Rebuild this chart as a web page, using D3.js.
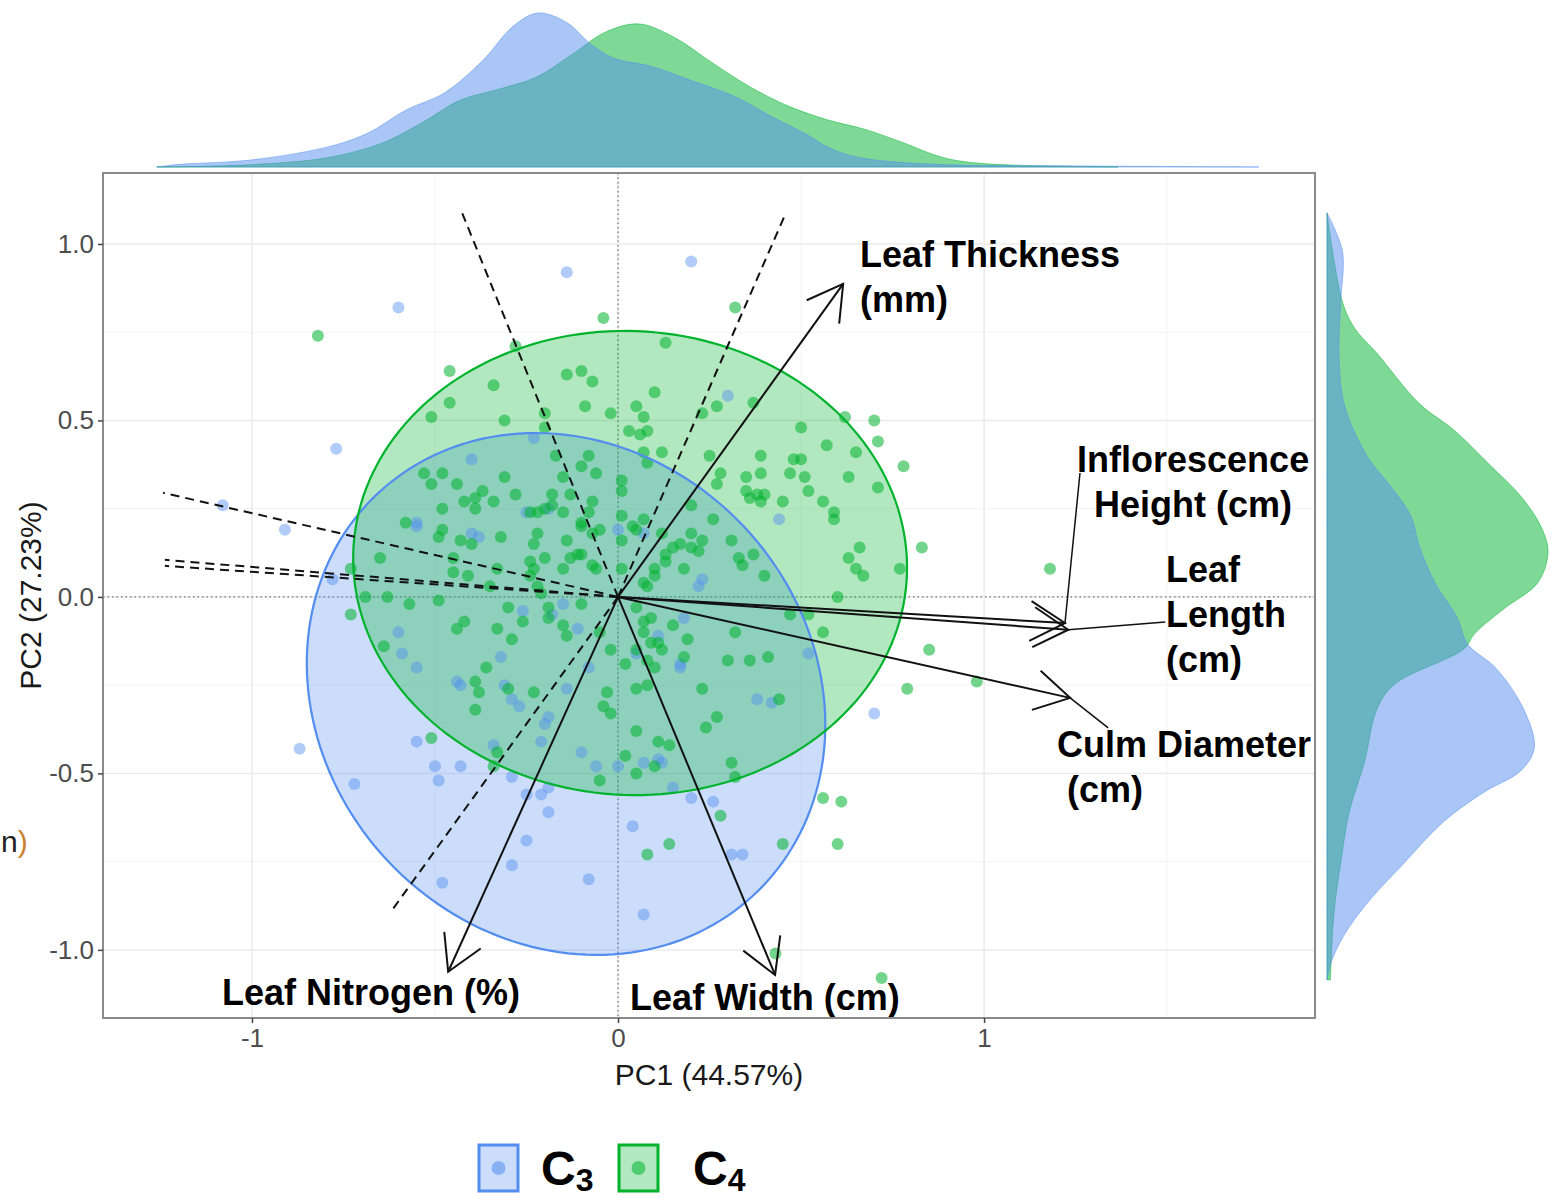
<!DOCTYPE html>
<html>
<head>
<meta charset="utf-8">
<script src="https://cdn.jsdelivr.net/npm/d3@7"></script>
<style>
  body { margin: 0; background: #fff; }
  text { font-family: "Liberation Sans", Arial, sans-serif; }
</style>
</head>
<body>
<svg id="chart" width="1552" height="1199"></svg>
<script>
// ---- data ----
var groups = ['C3', 'C4'];
var groupColors = { C3: '#538DEF', C4: '#00B32D' };

var xTicks = [-1, 0, 1];
var yTicks = [-1.0, -0.5, 0.0, 0.5, 1.0];
var xMinor = [-0.5, 0.5, 1.5];
var yMinor = [-0.75, -0.25, 0.25, 0.75];

// PCA scores [PC1, PC2]
var c3Points = [[-0.14,0.92],[0.20,0.95],[-0.60,0.82],[-0.77,0.42],[-1.08,0.26],[-0.91,0.19],[-0.78,0.05],
  [-0.87,-0.43],[-0.72,-0.53],[-0.55,-0.41],[-0.43,-0.48],[-0.49,-0.52],[-0.50,-0.48],[-0.29,-0.51],
  [-0.25,-0.56],[-0.21,-0.56],[-0.19,-0.54],[-0.19,-0.61],[-0.25,-0.69],[-0.29,-0.76],[-0.48,-0.81],
  [-0.08,-0.80],[0.04,-0.65],[0.07,-0.90],[0.26,-0.58],[0.31,-0.73],[0.34,-0.73],[-0.10,-0.44],
  [-0.06,-0.48],[0.00,-0.48],[0.07,-0.47],[0.11,-0.46],[0.12,-0.47],[-0.21,-0.41],[0.70,-0.33],
  [0.52,-0.16],[0.38,-0.29],[0.42,-0.30],[-0.40,0.39],[-0.55,0.21],[-0.55,0.20],[-0.40,0.18],
  [-0.38,0.17],[-0.19,0.25],[0.00,0.19],[0.07,0.18],[0.44,0.22],[0.23,0.05],[0.22,0.03],[-0.15,-0.02],
  [-0.18,-0.05],[-0.26,-0.04],[-0.11,-0.09],[-0.60,-0.10],[-0.59,-0.16],[-0.55,-0.20],[-0.32,-0.17],
  [-0.08,-0.20],[-0.44,-0.24],[-0.43,-0.25],[-0.31,-0.25],[-0.29,-0.29],[-0.27,-0.31],[-0.14,-0.26],
  [0.05,-0.16],[0.11,-0.11],[0.17,-0.19],[0.17,-0.20],[-0.19,-0.34],[-0.20,-0.36],[-0.34,-0.42],
  [0.18,-0.06],[-0.25,0.24],[0.30,0.57],[-0.23,0.45],[0.20,-0.57],[0.15,-0.54]];

var c4Points = [[-0.04,0.79],[0.32,0.82],[0.13,0.72],[-0.46,0.64],[-0.34,0.60],[-0.14,0.63],[-0.10,0.64],
  [-0.07,0.61],[-0.28,0.71],[-0.46,0.55],[-0.51,0.51],[-0.31,0.50],[-0.20,0.52],[-0.20,0.48],[-0.09,0.54],
  [-0.02,0.52],[0.05,0.54],[0.07,0.51],[0.03,0.47],[0.06,0.46],[0.08,0.47],[0.10,0.58],[0.12,0.41],
  [0.27,0.54],[0.23,0.52],[0.37,0.55],[0.50,0.48],[0.57,0.43],[0.62,0.51],[0.70,0.50],[0.71,0.44],
  [0.65,0.41],[0.39,0.40],[0.48,0.39],[0.50,0.39],[0.25,0.40],[0.07,0.41],[-0.08,0.40],[-0.17,0.40],
  [-0.82,0.74],[-0.65,0.11],[-0.73,0.08],[-0.73,-0.05],[-0.69,0.00],[-0.63,0.00],[-0.64,-0.14],
  [0.78,0.37],[0.71,0.31],[0.66,0.14],[0.65,0.08],[0.67,0.06],[0.77,0.08],[0.83,0.14],[1.18,0.08],
  [0.85,-0.15],[0.79,-0.26],[0.98,-0.24],[0.72,-1.08],
  [-0.05,-0.52],[0.02,-0.45],[0.05,-0.50],[0.10,-0.48],[0.14,-0.42],[0.28,-0.62],[0.14,-0.70],
  [0.08,-0.73],[0.31,-0.47],[0.32,-0.51],[0.45,-0.70],[0.56,-0.57],[0.61,-0.58],[0.60,-0.70],
  [0.43,-1.01],[-0.34,-0.48],[-0.33,-0.44],
  [-0.53,0.35],[-0.48,0.35],[-0.51,0.32],[-0.44,0.32],[-0.31,0.34],[-0.10,0.37],[-0.06,0.35],
  [-0.15,0.34],[0.01,0.33],[0.01,0.30],[0.08,0.38],[0.28,0.35],[0.27,0.32],[0.35,0.34],[0.39,0.35],
  [0.47,0.35],[0.51,0.34],[0.52,0.30],[0.35,0.30],[0.38,0.29],[0.40,0.29],[0.36,0.28],[0.39,0.27],
  [0.45,0.27],[0.56,0.27],[0.63,0.34],[0.59,0.24],[0.59,0.22],[0.63,0.11],[0.60,0.00],
  [0.31,0.16],[0.33,0.11],[0.34,0.09],[0.37,0.12],[0.40,0.06],[0.26,0.22],[0.20,0.26],[0.23,0.16],
  [0.20,0.14],[0.22,0.13],[0.20,0.18],[0.17,0.15],[0.15,0.14],[0.13,0.12],[0.18,0.08],[0.13,0.10],
  [0.10,0.08],[0.10,0.06],[0.07,0.04],[0.08,0.03],[0.04,0.20],[0.05,0.19],[0.07,0.22],[0.12,0.18],
  [-0.05,0.19],[-0.07,0.18],[-0.06,0.08],[-0.07,0.09],[0.01,0.23],[0.01,0.16],[0.01,0.08],
  [-0.10,0.20],[-0.14,0.16],[-0.10,0.21],[-0.08,0.24],[-0.07,0.27],[-0.13,0.29],[-0.18,0.29],
  [-0.15,0.24],[-0.18,0.26],[-0.20,0.25],[-0.22,0.24],[-0.24,0.24],[-0.28,0.29],[-0.34,0.27],
  [-0.37,0.30],[-0.39,0.28],[-0.42,0.27],[-0.39,0.25],[-0.48,0.25],[-0.22,0.18],[-0.23,0.15],
  [-0.20,0.11],[-0.24,0.10],[-0.23,0.08],[-0.24,0.06],[-0.13,0.11],[-0.11,0.12],[-0.10,0.12],
  [-0.15,0.08],[-0.33,0.08],[-0.32,0.17],[-0.43,0.16],[-0.40,0.15],[-0.45,0.11],[-0.48,0.19],
  [-0.49,0.17],[-0.58,0.21],[-0.45,0.07],[-0.41,0.06],[-0.49,-0.01],[-0.57,-0.02],[-0.35,0.03],
  [-0.22,0.03],[-0.21,0.01],[-0.10,-0.02],[-0.19,-0.03],[-0.30,-0.03],[-0.42,-0.07],[-0.33,-0.09],
  [-0.26,-0.07],[-0.29,-0.12],[-0.15,-0.08],[-0.14,-0.11],[-0.19,-0.06],[-0.05,-0.10],[-0.02,-0.15],
  [0.02,-0.19],[0.05,-0.03],[0.07,-0.07],[0.09,-0.06],[0.07,-0.10],[0.09,-0.13],[0.11,-0.13],
  [0.12,-0.15],[0.05,-0.15],[0.08,-0.18],[0.10,-0.20],[0.15,-0.08],[0.19,-0.12],[0.18,-0.17],
  [0.32,-0.10],[0.30,-0.18],[0.36,-0.18],[0.41,-0.17],[0.47,-0.05],[0.52,-0.05],[0.56,-0.10],
  [0.44,-0.29],[0.27,-0.34],[0.24,-0.37],[0.23,-0.26],[0.08,-0.25],[0.05,-0.26],[-0.04,-0.31],
  [-0.02,-0.33],[-0.03,-0.27],[-0.23,-0.27],[-0.30,-0.26],[-0.38,-0.27],[-0.39,-0.24],[-0.44,-0.09],
  [-0.39,-0.32],[-0.36,-0.20],[-0.51,-0.40],[0.05,-0.38],[0.11,-0.41]];

// marginal densities: [PC1, density] on top, [PC2, density] on the right
var topDensityC3 = [[-1.26,0.00],[-1.205,0.02],[-0.997,0.06],[-0.787,0.17],[-0.683,0.28],[-0.579,0.47],
  [-0.475,0.61],[-0.369,0.88],[-0.287,1.16],[-0.219,1.27],[-0.139,1.19],[-0.077,1.02],[-0.014,0.90],
  [0.090,0.83],[0.194,0.72],[0.320,0.58],[0.423,0.41],[0.508,0.28],[0.590,0.14],[0.675,0.07],
  [0.885,0.02],[1.197,0.01],[1.751,0.00]];
var topDensityC4 = [[-1.26,0.00],[-0.997,0.02],[-0.787,0.08],[-0.642,0.20],[-0.538,0.36],[-0.432,0.55],
  [-0.328,0.64],[-0.224,0.74],[-0.120,0.94],[-0.036,1.11],[0.057,1.18],[0.153,1.07],[0.257,0.86],
  [0.361,0.66],[0.467,0.50],[0.571,0.39],[0.675,0.31],[0.779,0.20],[0.885,0.08],[0.989,0.03],[1.366,0.00]];
var rightDensityC3 = [[1.088,0.00],[0.980,0.09],[0.836,0.08],[0.691,0.07],[0.547,0.10],[0.402,0.23],
  [0.314,0.37],[0.229,0.49],[0.142,0.54],[0.040,0.63],[-0.059,0.76],[-0.133,0.82],[-0.204,0.99],
  [-0.320,1.15],[-0.428,1.21],[-0.493,1.13],[-0.552,0.92],[-0.637,0.68],[-0.754,0.45],[-0.870,0.23],
  [-0.958,0.10],[-1.028,0.03],[-1.085,0.00]];
var rightDensityC4 = [[1.088,0.00],[0.836,0.09],[0.762,0.16],[0.691,0.29],[0.547,0.54],[0.473,0.74],
  [0.374,0.95],[0.286,1.13],[0.198,1.25],[0.127,1.29],[0.040,1.23],[-0.031,1.04],[-0.105,0.86],
  [-0.147,0.80],[-0.249,0.39],[-0.320,0.29],[-0.465,0.22],[-0.609,0.13],[-0.754,0.08],[-0.898,0.04],
  [-1.085,0.02]];

// confidence ellipses (centre, semi-axes, rotation in degrees)
var ellipses = [
  { group: 'C3', cx: -0.142, cy: -0.275, a: 0.768, b: 0.677, angle: -55 },
  { group: 'C4', cx: 0.033, cy: 0.096, a: 0.757, b: 0.657, angle: -4 }
];

// trait loadings (solid arrows) and the dashed vectors
var loadings = [
  { name: 'Leaf Thickness', pc1: 0.615, pc2: 0.887 },
  { name: 'Leaf Nitrogen', pc1: -0.464, pc2: -1.062 },
  { name: 'Leaf Width', pc1: 0.429, pc2: -1.071 },
  { name: 'Inflorescence Height', pc1: 1.221, pc2: -0.074 },
  { name: 'Leaf Length', pc1: 1.230, pc2: -0.093 },
  { name: 'Culm Diameter', pc1: 1.235, pc2: -0.286 }
];
var dashedVectors = [[-0.426, 1.088], [0.456, 1.082], [-1.243, 0.295], [-1.238, 0.105], [-1.238, 0.088], [-0.617, -0.887]];

var loadingLabels = [
  { name: 'Leaf Thickness', lines: ['Leaf Thickness', '(mm)'], pc1: 0.661, pc2: 0.935, anchor: 'start', leader: null },
  { name: 'Inflorescence Height', lines: ['Inflorescence', 'Height (cm)'], pc1: 1.571, pc2: 0.354, anchor: 'middle', leader: [1.262, 0.351] },
  { name: 'Leaf Length', lines: ['Leaf', 'Length', '(cm)'], pc1: 1.497, pc2: 0.042, anchor: 'start', leader: [1.495, -0.071] },
  { name: 'Culm Diameter', lines: ['Culm Diameter', ' (cm)'], pc1: 1.199, pc2: -0.453, anchor: 'start', leader: [1.339, -0.371] },
  { name: 'Leaf Nitrogen', lines: ['Leaf Nitrogen (%)'], pc1: -1.082, pc2: -1.156, anchor: 'start', leader: null },
  { name: 'Leaf Width', lines: ['Leaf Width (cm)'], pc1: 0.033, pc2: -1.170, anchor: 'start', leader: null }
];

// ---- chart ----
var svg = d3.select('#chart');
var panel = { left: 103, right: 1315, top: 173, bottom: 1018 };

var xScale = d3.scaleLinear().domain([-1.407, 1.904]).range([panel.left, panel.right]);
var yScale = d3.scaleLinear().domain([-1.193, 1.201]).range([panel.bottom, panel.top]);
var topScale = d3.scaleLinear().domain([0, 1.27]).range([167, 13]);
var rightScale = d3.scaleLinear().domain([0, 1.29]).range([1327, 1548]);

// marginal densities (green below, blue on top)
var topArea = d3.area()
  .x(d => xScale(d[0]))
  .y0(topScale(0))
  .y1(d => topScale(d[1]))
  .curve(d3.curveCatmullRom.alpha(0.5));
var rightArea = d3.area()
  .y(d => yScale(d[0]))
  .x0(rightScale(0))
  .x1(d => rightScale(d[1]))
  .curve(d3.curveCatmullRom.alpha(0.5));

[['C4', topDensityC4, rightDensityC4], ['C3', topDensityC3, rightDensityC3]].forEach(function (s) {
  svg.append('path').attr('d', topArea(s[1]))
    .attr('fill', groupColors[s[0]]).attr('fill-opacity', 0.5)
    .attr('stroke', groupColors[s[0]]).attr('stroke-opacity', 0.5).attr('stroke-width', 1);
  svg.append('path').attr('d', rightArea(s[2]))
    .attr('fill', groupColors[s[0]]).attr('fill-opacity', 0.5)
    .attr('stroke', groupColors[s[0]]).attr('stroke-opacity', 0.5).attr('stroke-width', 1);
});

// grid
var grid = svg.append('g');
grid.selectAll('.xminor').data(xMinor).enter().append('line')
  .attr('x1', d => xScale(d)).attr('x2', d => xScale(d))
  .attr('y1', panel.top).attr('y2', panel.bottom)
  .attr('stroke', '#f4f4f4').attr('stroke-width', 1);
grid.selectAll('.yminor').data(yMinor).enter().append('line')
  .attr('y1', d => yScale(d)).attr('y2', d => yScale(d))
  .attr('x1', panel.left).attr('x2', panel.right)
  .attr('stroke', '#f4f4f4').attr('stroke-width', 1);
grid.selectAll('.xmajor').data(xTicks).enter().append('line')
  .attr('x1', d => xScale(d)).attr('x2', d => xScale(d))
  .attr('y1', panel.top).attr('y2', panel.bottom)
  .attr('stroke', '#ebebeb').attr('stroke-width', 1.5);
grid.selectAll('.ymajor').data(yTicks).enter().append('line')
  .attr('y1', d => yScale(d)).attr('y2', d => yScale(d))
  .attr('x1', panel.left).attr('x2', panel.right)
  .attr('stroke', '#ebebeb').attr('stroke-width', 1.5);

// zero reference lines
svg.append('line')
  .attr('x1', xScale(0)).attr('x2', xScale(0)).attr('y1', panel.top).attr('y2', panel.bottom)
  .attr('stroke', '#555').attr('stroke-width', 1).attr('stroke-dasharray', '1.5,3');
svg.append('line')
  .attr('y1', yScale(0)).attr('y2', yScale(0)).attr('x1', panel.left).attr('x2', panel.right)
  .attr('stroke', '#555').attr('stroke-width', 1).attr('stroke-dasharray', '1.5,3');

// ellipses
function ellipsePoints(e) {
  var th = e.angle * Math.PI / 180;
  return d3.range(0, 360, 2).map(function (t) {
    var r = t * Math.PI / 180;
    var u = e.a * Math.cos(r), v = e.b * Math.sin(r);
    return [e.cx + u * Math.cos(th) - v * Math.sin(th), e.cy + u * Math.sin(th) + v * Math.cos(th)];
  });
}
var ellipseLine = d3.line()
  .x(d => xScale(d[0]))
  .y(d => yScale(d[1]))
  .curve(d3.curveLinearClosed);

svg.selectAll('.ellipse-fill')
  .data(ellipses)
  .enter()
  .append('path')
  .attr('d', d => ellipseLine(ellipsePoints(d)))
  .attr('fill', d => groupColors[d.group])
  .attr('fill-opacity', 0.3)
  .attr('stroke', 'none');

// points
[['C3', c3Points, 0.45], ['C4', c4Points, 0.55]].forEach(function (s) {
  svg.append('g').selectAll('circle')
    .data(s[1])
    .enter()
    .append('circle')
    .attr('cx', d => xScale(d[0]))
    .attr('cy', d => yScale(d[1]))
    .attr('r', 6)
    .attr('fill', groupColors[s[0]])
    .attr('fill-opacity', s[2]);
});

svg.selectAll('.ellipse-line')
  .data(ellipses)
  .enter()
  .append('path')
  .attr('d', d => ellipseLine(ellipsePoints(d)))
  .attr('fill', 'none')
  .attr('stroke', d => groupColors[d.group])
  .attr('stroke-width', 2.2);

// dashed vectors
svg.append('g').selectAll('line')
  .data(dashedVectors)
  .enter()
  .append('line')
  .attr('x1', xScale(0)).attr('y1', yScale(0))
  .attr('x2', d => xScale(d[0])).attr('y2', d => yScale(d[1]))
  .attr('stroke', '#111').attr('stroke-width', 2).attr('stroke-dasharray', '9,6');

// loading arrows
var arrows = svg.append('g');
loadings.forEach(function (l) {
  var x0 = xScale(0), y0 = yScale(0), x1 = xScale(l.pc1), y1 = yScale(l.pc2);
  var ang = Math.atan2(y1 - y0, x1 - x0), len = 40, spread = Math.PI / 6;
  arrows.append('line')
    .attr('x1', x0).attr('y1', y0).attr('x2', x1).attr('y2', y1)
    .attr('stroke', '#111').attr('stroke-width', 2);
  arrows.append('path')
    .attr('d', d3.line()([
      [x1 - len * Math.cos(ang - spread), y1 - len * Math.sin(ang - spread)],
      [x1, y1],
      [x1 - len * Math.cos(ang + spread), y1 - len * Math.sin(ang + spread)]
    ]))
    .attr('fill', 'none').attr('stroke', '#111').attr('stroke-width', 2);
});

// loading labels with leader segments
var labels = svg.append('g');
loadingLabels.forEach(function (lab) {
  if (lab.leader) {
    var tip = loadings.find(l => l.name === lab.name);
    labels.append('line')
      .attr('x1', xScale(lab.leader[0])).attr('y1', yScale(lab.leader[1]))
      .attr('x2', xScale(tip.pc1)).attr('y2', yScale(tip.pc2))
      .attr('stroke', '#111').attr('stroke-width', 1.5);
  }
  var t = labels.append('text')
    .attr('x', xScale(lab.pc1)).attr('y', yScale(lab.pc2))
    .attr('text-anchor', lab.anchor)
    .attr('font-size', 36).attr('font-weight', 'bold').attr('fill', '#000')
    .style('white-space', 'pre');
  lab.lines.forEach(function (ln, i) {
    t.append('tspan').attr('x', xScale(lab.pc1)).attr('dy', i === 0 ? 0 : 45).text(ln);
  });
});

// panel border
svg.append('rect')
  .attr('x', panel.left).attr('y', panel.top)
  .attr('width', panel.right - panel.left).attr('height', panel.bottom - panel.top)
  .attr('fill', 'none').attr('stroke', '#8a8a8a').attr('stroke-width', 2);

// axes
var xAxis = svg.append('g')
  .attr('transform', `translate(0, ${panel.bottom})`)
  .call(d3.axisBottom(xScale).tickValues(xTicks).tickFormat(d => String(d)).tickSize(5).tickPadding(6));
var yAxis = svg.append('g')
  .attr('transform', `translate(${panel.left}, 0)`)
  .call(d3.axisLeft(yScale).tickValues(yTicks).tickFormat(d => d.toFixed(1)).tickSize(5).tickPadding(4));
[xAxis, yAxis].forEach(function (a) {
  a.select('.domain').remove();
  a.selectAll('.tick line').attr('stroke', '#444').attr('stroke-width', 1.5);
  a.selectAll('.tick text')
    .attr('font-size', 26).attr('fill', '#4d4d4d')
    .attr('font-family', '"Liberation Sans", Arial, sans-serif');
});

svg.append('text')
  .attr('x', (panel.left + panel.right) / 2).attr('y', 1085)
  .attr('text-anchor', 'middle').attr('font-size', 30).attr('fill', '#1a1a1a')
  .text('PC1 (44.57%)');
svg.append('text')
  .attr('transform', `translate(41, ${(panel.top + panel.bottom) / 2}) rotate(-90)`)
  .attr('text-anchor', 'middle').attr('font-size', 30).attr('fill', '#1a1a1a')
  .text('PC2 (27.23%)');

// cropped neighbour label at the left edge
var stray = svg.append('text').attr('x', 1).attr('y', 852).attr('text-anchor', 'start')
  .attr('font-size', 30).attr('fill', '#222');
stray.append('tspan').text('n');
stray.append('tspan').attr('fill', '#c9812f').text(')');

// legend
var legend = svg.append('g');
groups.forEach(function (g, i) {
  var kx = 479 + i * 140, ky = 1145;
  legend.append('rect')
    .attr('x', kx).attr('y', ky).attr('width', 39).attr('height', 46)
    .attr('fill', groupColors[g]).attr('fill-opacity', 0.3)
    .attr('stroke', groupColors[g]).attr('stroke-width', 3);
  legend.append('circle')
    .attr('cx', kx + 19.5).attr('cy', ky + 23).attr('r', 7)
    .attr('fill', groupColors[g]).attr('fill-opacity', 0.55);
  var t = legend.append('text')
    .attr('x', kx + 62 + i * 12).attr('y', 1185)
    .attr('font-size', 48).attr('font-weight', 'bold').attr('fill', '#000');
  t.append('tspan').text(g.charAt(0));
  t.append('tspan').attr('font-size', 32).attr('dy', 6).text(g.slice(1));
});
</script>
</body>
</html>
